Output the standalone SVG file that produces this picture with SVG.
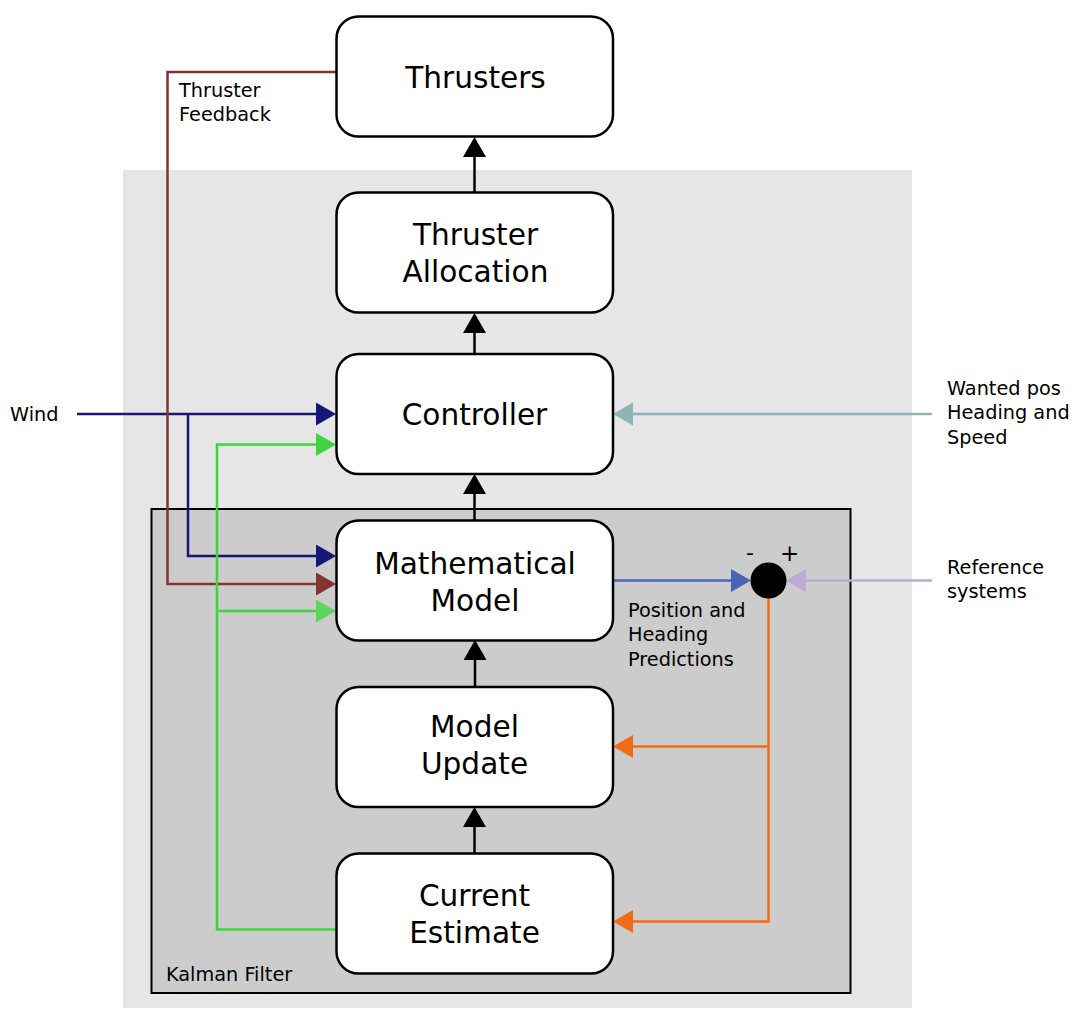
<svg xmlns="http://www.w3.org/2000/svg" width="1080" height="1024" viewBox="0 0 1080 1024">
<style>
.box{fill:#fff;stroke:#000;stroke-width:2.5}
.big{font-family:"DejaVu Sans",sans-serif;font-size:29.6px;fill:#000;text-anchor:middle}
.sm{font-family:"DejaVu Sans",sans-serif;font-size:19.3px;fill:#000}
.c{fill:none;stroke-width:2.5}
</style>
<defs>
<marker id="aK" markerUnits="userSpaceOnUse" markerWidth="20" markerHeight="24" refX="0" refY="11.5" orient="auto"><path d="M0,0 L20,11.5 L0,23 z" fill="#000"/></marker>
<marker id="aN" markerUnits="userSpaceOnUse" markerWidth="20" markerHeight="24" refX="0" refY="11.5" orient="auto"><path d="M0,0 L20,11.5 L0,23 z" fill="#161678"/></marker>
<marker id="aB" markerUnits="userSpaceOnUse" markerWidth="20" markerHeight="24" refX="0" refY="11.5" orient="auto"><path d="M0,0 L20,11.5 L0,23 z" fill="#833333"/></marker>
<marker id="aG" markerUnits="userSpaceOnUse" markerWidth="20" markerHeight="24" refX="0" refY="11.5" orient="auto"><path d="M0,0 L20,11.5 L0,23 z" fill="#3fd43f"/></marker>
<marker id="aG2" markerUnits="userSpaceOnUse" markerWidth="20" markerHeight="24" refX="0" refY="11.5" orient="auto"><path d="M0,0 L20,11.5 L0,23 z" fill="#5cd65c"/></marker>
<marker id="aT" markerUnits="userSpaceOnUse" markerWidth="20" markerHeight="24" refX="0" refY="11.5" orient="auto"><path d="M0,0 L20,11.5 L0,23 z" fill="#8ab6b6"/></marker>
<marker id="aU" markerUnits="userSpaceOnUse" markerWidth="20" markerHeight="24" refX="0" refY="11.5" orient="auto"><path d="M0,0 L20,11.5 L0,23 z" fill="#4a64b4"/></marker>
<marker id="aL" markerUnits="userSpaceOnUse" markerWidth="20" markerHeight="24" refX="0" refY="11.5" orient="auto"><path d="M0,0 L20,11.5 L0,23 z" fill="#bcaad4"/></marker>
<marker id="aO" markerUnits="userSpaceOnUse" markerWidth="20" markerHeight="24" refX="0" refY="11.5" orient="auto"><path d="M0,0 L20,11.5 L0,23 z" fill="#f26c17"/></marker>
</defs>
<rect width="1080" height="1024" fill="#fff"/>
<g id="system-area">
<rect x="123" y="170" width="789" height="838" fill="#e6e6e6"/>
</g>
<g id="kalman-filter">
<rect x="151.5" y="509" width="699" height="484" fill="#cccccc" stroke="#000" stroke-width="2"/>
<text class="sm" x="166" y="981">Kalman Filter</text>
</g>
<g id="connectors">
<line class="c" stroke="#000" x1="474.5" y1="192" x2="474.5" y2="157" marker-end="url(#aK)"/>
<line class="c" stroke="#000" x1="474.5" y1="354" x2="474.5" y2="333" marker-end="url(#aK)"/>
<line class="c" stroke="#000" x1="474.5" y1="520" x2="474.5" y2="494" marker-end="url(#aK)"/>
<line class="c" stroke="#000" x1="475" y1="687" x2="475" y2="660" marker-end="url(#aK)"/>
<line class="c" stroke="#000" x1="474.5" y1="853" x2="474.5" y2="827" marker-end="url(#aK)"/>
<polyline class="c" stroke="#161678" points="77,414 316,414" marker-end="url(#aN)"/>
<polyline class="c" stroke="#161678" points="188,414 188,556 316,556" marker-end="url(#aN)"/>
<polyline class="c" stroke="#833333" points="338,72 167.5,72 167.5,584 316,584" marker-end="url(#aB)"/>
<polyline class="c" stroke="#3fd43f" points="336,929.5 217,929.5 217,444.5 316,444.5" marker-end="url(#aG)"/>
<polyline class="c" stroke="#3fd43f" points="217,611 316,611" marker-end="url(#aG2)"/>
<polyline class="c" stroke="#8ab6b6" points="932,414 633,414" marker-end="url(#aT)"/>
<polyline class="c" stroke="#4a64b4" points="613,580.5 731,580.5" marker-end="url(#aU)"/>
<polyline class="c" stroke="#bcaad4" points="932,580.5 806,580.5" marker-end="url(#aL)"/>
<polyline class="c" stroke="#f26c17" points="768.5,598 768.5,921.5 633,921.5" marker-end="url(#aO)"/>
<polyline class="c" stroke="#f26c17" points="768.5,746.5 633,746.5" marker-end="url(#aO)"/>
</g>
<g id="thrusters">
<rect class="box" x="336.5" y="16.5" width="276.5" height="120" rx="22"/>
<text class="big" x="475.5" y="88">Thrusters</text>
</g>
<g id="thruster-allocation">
<rect class="box" x="336.5" y="192.5" width="276.5" height="120" rx="22"/>
<text class="big" x="475.5" y="245">Thruster</text>
<text class="big" x="475.5" y="282">Allocation</text>
</g>
<g id="controller">
<rect class="box" x="336.5" y="354" width="276.5" height="120" rx="22"/>
<text class="big" x="474.5" y="425">Controller</text>
</g>
<g id="mathematical-model">
<rect class="box" x="336.5" y="520.5" width="276.5" height="120" rx="22"/>
<text class="big" x="475" y="574">Mathematical</text>
<text class="big" x="475" y="611">Model</text>
</g>
<g id="model-update">
<rect class="box" x="336.5" y="687" width="276.5" height="120" rx="22"/>
<text class="big" x="474.5" y="737">Model</text>
<text class="big" x="474.5" y="774">Update</text>
</g>
<g id="current-estimate">
<rect class="box" x="336.5" y="853.5" width="276.5" height="120" rx="22"/>
<text class="big" x="474.5" y="906">Current</text>
<text class="big" x="474.5" y="943">Estimate</text>
</g>
<g id="summing-junction">
<circle cx="768.5" cy="580.5" r="18" fill="#000"/>
<text class="sm" x="746" y="560" style="font-size:22px">-</text>
<text class="sm" x="780" y="561" style="font-size:23px">+</text>
</g>
<g id="labels">
<text class="sm" x="179" y="97">Thruster</text>
<text class="sm" x="179" y="121">Feedback</text>
<text class="sm" x="10" y="421">Wind</text>
<text class="sm" x="947" y="395">Wanted pos</text>
<text class="sm" x="947" y="419">Heading and</text>
<text class="sm" x="947" y="444">Speed</text>
<text class="sm" x="947" y="574">Reference</text>
<text class="sm" x="947" y="598">systems</text>
<text class="sm" x="628" y="617">Position and</text>
<text class="sm" x="628" y="641">Heading</text>
<text class="sm" x="628" y="666">Predictions</text>
</g>
</svg>
